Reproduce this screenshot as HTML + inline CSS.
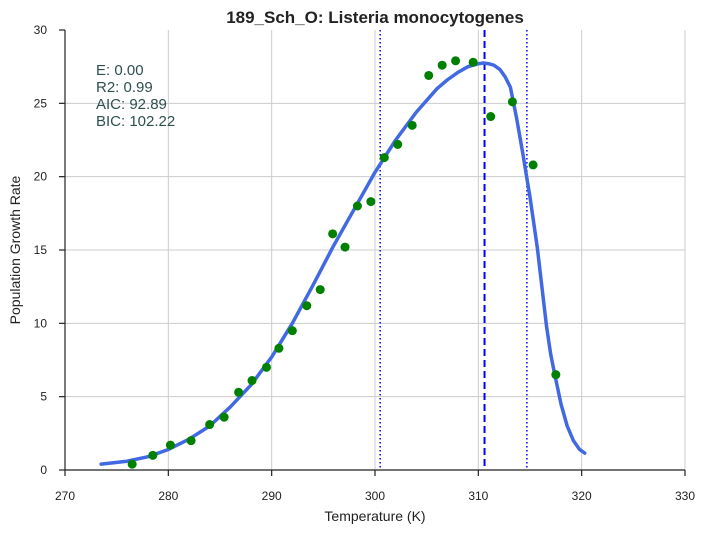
<!DOCTYPE html>
<html><head><meta charset="utf-8"><style>
body{margin:0;background:#fff;font-family:"Liberation Sans",sans-serif;}
</style></head><body>
<svg width="706" height="533" xmlns="http://www.w3.org/2000/svg" font-family="Liberation Sans, sans-serif">
<g id="grid"></g>
<g id="marks"></g>
<g id="axes"></g>
<text x="375" y="23" text-anchor="middle" font-size="17" font-weight="bold" fill="#222">189_Sch_O: Listeria monocytogenes</text>
<text x="375" y="521" text-anchor="middle" font-size="14" fill="#222">Temperature (K)</text>
<text transform="translate(20,250) rotate(-90)" text-anchor="middle" font-size="14" fill="#222">Population Growth Rate</text>
<g font-size="15" fill="#2f4f4f">
<text x="96" y="75">E:  0.00</text>
<text x="96" y="92">R2:  0.99</text>
<text x="96" y="109">AIC: 92.89</text>
<text x="96" y="126">BIC: 102.22</text>
</g>
</svg>
<script>
const xTicks=[270,280,290,300,310,320,330];
const yTicks=[0,5,10,15,20,25,30];
const obsT=[276.5,278.5,280.2,282.2,284,285.4,286.8,288.1,289.5,290.7,292,293.4,294.7,295.9,297.1,298.3,299.6,300.9,302.2,303.6,305.2,306.5,307.8,309.5,311.2,313.3,315.3,317.5];
const obsR=[0.4,1.0,1.7,2.0,3.1,3.6,5.3,6.1,7.0,8.3,9.5,11.2,12.3,16.1,15.2,18.0,18.3,21.3,22.2,23.5,26.9,27.6,27.9,27.8,24.1,25.1,20.8,6.5];
const fitT=[273.5,276,278,280,282,284,286,288,290,292,294,296,298,300,302,304,306,307,308,309,310,310.5,311,311.5,312.1,312.6,313.1,313.7,314.3,315.0,315.7,316.2,316.6,317.0,317.4,318.0,318.6,319.2,319.8,320.3];
const fitR=[0.4,0.6,0.9,1.4,2.1,3.0,4.3,5.8,7.7,10.0,12.6,15.3,17.8,20.3,22.5,24.4,26.0,26.6,27.1,27.5,27.7,27.75,27.7,27.6,27.3,26.8,26.1,24.0,21.6,18.6,15.2,12.2,9.8,7.9,6.5,4.5,3.0,2.0,1.4,1.15];
const dottedLines=[300.5,314.7];
const dashedLine=310.6;
const X=v=>65+(v-270)*620/60, Y=v=>470-v*440/30;
const NS="http://www.w3.org/2000/svg";
function mk(p,t,a){const e=document.createElementNS(NS,t);for(const k in a)e.setAttribute(k,a[k]);p.appendChild(e);return e;}
const g=document.getElementById('grid'),m=document.getElementById('marks'),ax=document.getElementById('axes');
xTicks.forEach(t=>{if(t>270){const l=mk(g,'line',{x1:X(t),x2:X(t),y1:30,y2:470,stroke:'#ccc','stroke-width':1});

}
const tk=mk(ax,'line',{x1:X(t),x2:X(t),y1:470,y2:476,stroke:'#222','stroke-width':1.2});


const tx=mk(ax,'text',{x:X(t),y:500,'text-anchor':'middle','font-size':12,fill:'#222'});tx.textContent=t;

});
yTicks.forEach(t=>{if(t>0&&t<30){const l=mk(g,'line',{x1:65,x2:685,y1:Y(t),y2:Y(t),stroke:'#ccc','stroke-width':1});

}
const tk=mk(ax,'line',{x1:59,x2:65,y1:Y(t),y2:Y(t),stroke:'#222','stroke-width':1.2});


const tx=mk(ax,'text',{x:47,y:Y(t)+4,'text-anchor':'end','font-size':12,fill:'#222'});tx.textContent=t;

});
const sp1=mk(ax,'line',{x1:65,x2:65,y1:30,y2:470,stroke:'#222','stroke-width':1.2});


const sp2=mk(ax,'line',{x1:65,x2:685,y1:470,y2:470,stroke:'#222','stroke-width':1.2});


dottedLines.forEach(v=>{const l=mk(m,'line',{x1:X(v),x2:X(v),y1:30,y2:470,stroke:'#0000ff','stroke-width':1.5,'stroke-dasharray':'1.5,2.5'});

});
const dl=mk(m,'line',{x1:X(dashedLine),x2:X(dashedLine),y1:30,y2:470,stroke:'#0000ff','stroke-width':2,'stroke-dasharray':'7,4'});


const p=mk(m,'polyline',{points:fitT.map((t,i)=>X(t)+','+Y(fitR[i])).join(' '),fill:'none',stroke:'#4169e1','stroke-width':3.5,'stroke-linejoin':'round','stroke-linecap':'round'});


obsT.forEach((t,i)=>{const c=mk(m,'circle',{cx:X(t),cy:Y(obsR[i]),r:4.5,fill:'#008000'});

});
</script>
</body></html>
